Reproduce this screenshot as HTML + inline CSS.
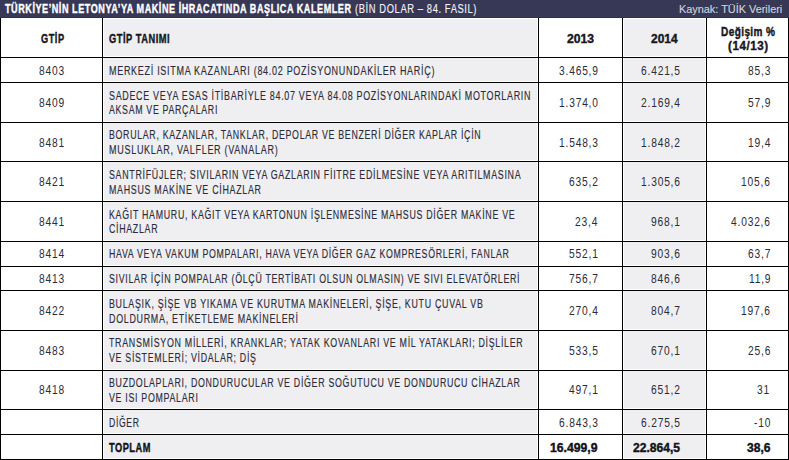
<!DOCTYPE html>
<html><head><meta charset="utf-8"><style>
html,body{margin:0;padding:0;}
body{width:789px;height:460px;overflow:hidden;background:#fff;position:relative;font-family:"Liberation Sans",sans-serif;}
.bar{position:absolute;left:0;top:0;width:789px;height:18px;background:#373756;}
.bar2{position:absolute;left:0;top:17px;width:789px;height:1px;background:#2f2f4a;}
.g{position:absolute;background:#efeff1;}
.h{position:absolute;left:0;width:789px;height:1px;background:#000;}
.v{position:absolute;top:18px;width:1px;height:442px;background:#000;}
.t{position:absolute;white-space:nowrap;transform-origin:0 0;-webkit-text-stroke:0.15px currentColor;}
.b{-webkit-text-stroke:0.4px currentColor;}
</style></head><body>
<div class="bar"></div><div class="bar2"></div>
<div class="g" style="left:104px;top:19px;width:433px;height:37px"></div>
<div class="g" style="left:104px;top:58px;width:433px;height:23px"></div>
<div class="g" style="left:104px;top:83px;width:433px;height:38px"></div>
<div class="g" style="left:104px;top:123px;width:433px;height:37px"></div>
<div class="g" style="left:104px;top:162px;width:433px;height:38px"></div>
<div class="g" style="left:104px;top:202px;width:433px;height:38px"></div>
<div class="g" style="left:104px;top:242px;width:433px;height:23px"></div>
<div class="g" style="left:104px;top:267px;width:433px;height:22px"></div>
<div class="g" style="left:104px;top:291px;width:433px;height:38px"></div>
<div class="g" style="left:104px;top:331px;width:433px;height:38px"></div>
<div class="g" style="left:104px;top:371px;width:433px;height:37px"></div>
<div class="g" style="left:104px;top:410px;width:433px;height:23px"></div>
<div class="g" style="left:104px;top:435px;width:433px;height:23px"></div>
<div class="g" style="left:624px;top:19px;width:81px;height:37px"></div>
<div class="g" style="left:624px;top:58px;width:81px;height:23px"></div>
<div class="g" style="left:624px;top:83px;width:81px;height:38px"></div>
<div class="g" style="left:624px;top:123px;width:81px;height:37px"></div>
<div class="g" style="left:624px;top:162px;width:81px;height:38px"></div>
<div class="g" style="left:624px;top:202px;width:81px;height:38px"></div>
<div class="g" style="left:624px;top:242px;width:81px;height:23px"></div>
<div class="g" style="left:624px;top:267px;width:81px;height:22px"></div>
<div class="g" style="left:624px;top:291px;width:81px;height:38px"></div>
<div class="g" style="left:624px;top:331px;width:81px;height:38px"></div>
<div class="g" style="left:624px;top:371px;width:81px;height:37px"></div>
<div class="g" style="left:624px;top:410px;width:81px;height:23px"></div>
<div class="g" style="left:624px;top:435px;width:81px;height:23px"></div>
<div class="h" style="top:57px"></div>
<div class="h" style="top:82px"></div>
<div class="h" style="top:122px"></div>
<div class="h" style="top:161px"></div>
<div class="h" style="top:201px"></div>
<div class="h" style="top:241px"></div>
<div class="h" style="top:266px"></div>
<div class="h" style="top:290px"></div>
<div class="h" style="top:330px"></div>
<div class="h" style="top:370px"></div>
<div class="h" style="top:409px"></div>
<div class="h" style="top:434px"></div>
<div class="h" style="top:459px"></div>
<div class="v" style="left:0px"></div>
<div class="v" style="left:102px"></div>
<div class="v" style="left:538px"></div>
<div class="v" style="left:622px"></div>
<div class="v" style="left:706px"></div>
<div class="v" style="left:788px"></div>
<div class="t b" style="left:5.00px;top:2.00px;font-size:13px;line-height:13px;font-weight:bold;letter-spacing:0.8px;color:#ffffff;transform:scaleX(0.6972);">TÜRKİYE’NİN LETONYA’YA MAKİNE İHRACATINDA BAŞLICA KALEMLER</div>
<div class="t" style="left:355.00px;top:2.00px;font-size:13px;line-height:13px;letter-spacing:0.8px;color:#f2f2f7;transform:scaleX(0.7237);">(BİN DOLAR – 84. FASIL)</div>
<div class="t" style="left:679.00px;top:4.00px;font-size:11.5px;line-height:11.5px;color:#d0d0da;transform:scaleX(0.9465);">Kaynak: TÜİK Verileri</div>
<div class="t b" style="left:40.50px;top:33.00px;font-size:12.3px;line-height:12.3px;font-weight:bold;letter-spacing:0.7px;color:#161620;transform:scaleX(0.7473);">GTİP</div>
<div class="t b" style="left:108.50px;top:33.00px;font-size:12.3px;line-height:12.3px;font-weight:bold;letter-spacing:0.7px;color:#161620;transform:scaleX(0.7552);">GTİP TANIMI</div>
<div class="t b" style="left:567.00px;top:33.00px;font-size:12.3px;line-height:12.3px;font-weight:bold;color:#161620;transform:scaleX(0.9868);">2013</div>
<div class="t b" style="left:651.00px;top:33.00px;font-size:12.3px;line-height:12.3px;font-weight:bold;color:#161620;transform:scaleX(0.9693);">2014</div>
<div class="t b" style="left:720.50px;top:26.00px;font-size:12px;line-height:12px;font-weight:bold;letter-spacing:0.5px;color:#161620;transform:scaleX(0.8349);">Değişim %</div>
<div class="t b" style="left:728.00px;top:40.00px;font-size:12px;line-height:12px;font-weight:bold;letter-spacing:0.6px;color:#161620;transform:scaleX(0.9614);">(14/13)</div>
<div class="t" style="left:109.00px;top:65.00px;font-size:12.8px;line-height:12.8px;letter-spacing:1.0px;color:#2b2b3a;transform:scaleX(0.7037);">MERKEZİ ISITMA KAZANLARI (84.02 POZİSYONUNDAKİLER HARİÇ)</div>
<div class="t" style="left:39.41px;top:65.00px;font-size:12.8px;line-height:12.8px;letter-spacing:1.0px;color:#2b2b3a;transform:scaleX(0.8000);-webkit-text-stroke:0px currentColor;">8403</div>
<div class="t" style="left:558.54px;top:65.00px;font-size:12.8px;line-height:12.8px;letter-spacing:1.0px;color:#2b2b3a;transform:scaleX(0.8000);-webkit-text-stroke:0px currentColor;">3.465,9</div>
<div class="t" style="left:641.04px;top:65.00px;font-size:12.8px;line-height:12.8px;letter-spacing:1.0px;color:#2b2b3a;transform:scaleX(0.8000);-webkit-text-stroke:0px currentColor;">6.421,5</div>
<div class="t" style="left:748.17px;top:65.00px;font-size:12.8px;line-height:12.8px;letter-spacing:1.0px;color:#2b2b3a;transform:scaleX(0.8000);-webkit-text-stroke:0px currentColor;">85,3</div>
<div class="t" style="left:109.00px;top:90.00px;font-size:12.8px;line-height:12.8px;letter-spacing:1.0px;color:#2b2b3a;transform:scaleX(0.6978);">SADECE VEYA ESAS İTİBARİYLE 84.07 VEYA 84.08 POZİSYONLARINDAKİ MOTORLARIN</div>
<div class="t" style="left:109.00px;top:104.00px;font-size:12.8px;line-height:12.8px;letter-spacing:1.0px;color:#2b2b3a;transform:scaleX(0.6875);">AKSAM VE PARÇALARI</div>
<div class="t" style="left:39.41px;top:97.00px;font-size:12.8px;line-height:12.8px;letter-spacing:1.0px;color:#2b2b3a;transform:scaleX(0.8000);-webkit-text-stroke:0px currentColor;">8409</div>
<div class="t" style="left:558.54px;top:97.00px;font-size:12.8px;line-height:12.8px;letter-spacing:1.0px;color:#2b2b3a;transform:scaleX(0.8000);-webkit-text-stroke:0px currentColor;">1.374,0</div>
<div class="t" style="left:641.04px;top:97.00px;font-size:12.8px;line-height:12.8px;letter-spacing:1.0px;color:#2b2b3a;transform:scaleX(0.8000);-webkit-text-stroke:0px currentColor;">2.169,4</div>
<div class="t" style="left:748.17px;top:97.00px;font-size:12.8px;line-height:12.8px;letter-spacing:1.0px;color:#2b2b3a;transform:scaleX(0.8000);-webkit-text-stroke:0px currentColor;">57,9</div>
<div class="t" style="left:109.00px;top:129.00px;font-size:12.8px;line-height:12.8px;letter-spacing:1.0px;color:#2b2b3a;transform:scaleX(0.6886);">BORULAR, KAZANLAR, TANKLAR, DEPOLAR VE BENZERİ DİĞER KAPLAR İÇİN</div>
<div class="t" style="left:109.00px;top:144.00px;font-size:12.8px;line-height:12.8px;letter-spacing:1.0px;color:#2b2b3a;transform:scaleX(0.7052);">MUSLUKLAR, VALFLER (VANALAR)</div>
<div class="t" style="left:39.41px;top:137.00px;font-size:12.8px;line-height:12.8px;letter-spacing:1.0px;color:#2b2b3a;transform:scaleX(0.8000);-webkit-text-stroke:0px currentColor;">8481</div>
<div class="t" style="left:558.54px;top:137.00px;font-size:12.8px;line-height:12.8px;letter-spacing:1.0px;color:#2b2b3a;transform:scaleX(0.8000);-webkit-text-stroke:0px currentColor;">1.548,3</div>
<div class="t" style="left:641.04px;top:137.00px;font-size:12.8px;line-height:12.8px;letter-spacing:1.0px;color:#2b2b3a;transform:scaleX(0.8000);-webkit-text-stroke:0px currentColor;">1.848,2</div>
<div class="t" style="left:748.17px;top:137.00px;font-size:12.8px;line-height:12.8px;letter-spacing:1.0px;color:#2b2b3a;transform:scaleX(0.8000);-webkit-text-stroke:0px currentColor;">19,4</div>
<div class="t" style="left:109.00px;top:169.00px;font-size:12.8px;line-height:12.8px;letter-spacing:1.0px;color:#2b2b3a;transform:scaleX(0.6944);">SANTRİFÜJLER; SIVILARIN VEYA GAZLARIN FİITRE EDİLMESİNE VEYA ARITILMASINA</div>
<div class="t" style="left:109.00px;top:184.00px;font-size:12.8px;line-height:12.8px;letter-spacing:1.0px;color:#2b2b3a;transform:scaleX(0.6944);">MAHSUS MAKİNE VE CİHAZLAR</div>
<div class="t" style="left:39.41px;top:176.00px;font-size:12.8px;line-height:12.8px;letter-spacing:1.0px;color:#2b2b3a;transform:scaleX(0.8000);-webkit-text-stroke:0px currentColor;">8421</div>
<div class="t" style="left:568.68px;top:176.00px;font-size:12.8px;line-height:12.8px;letter-spacing:1.0px;color:#2b2b3a;transform:scaleX(0.8000);-webkit-text-stroke:0px currentColor;">635,2</div>
<div class="t" style="left:641.04px;top:176.00px;font-size:12.8px;line-height:12.8px;letter-spacing:1.0px;color:#2b2b3a;transform:scaleX(0.8000);-webkit-text-stroke:0px currentColor;">1.305,6</div>
<div class="t" style="left:740.68px;top:176.00px;font-size:12.8px;line-height:12.8px;letter-spacing:1.0px;color:#2b2b3a;transform:scaleX(0.8000);-webkit-text-stroke:0px currentColor;">105,6</div>
<div class="t" style="left:109.00px;top:209.00px;font-size:12.8px;line-height:12.8px;letter-spacing:1.0px;color:#2b2b3a;transform:scaleX(0.6918);">KAĞIT HAMURU, KAĞIT VEYA KARTONUN İŞLENMESİNE MAHSUS DİĞER MAKİNE VE</div>
<div class="t" style="left:109.00px;top:223.00px;font-size:12.8px;line-height:12.8px;letter-spacing:1.0px;color:#2b2b3a;transform:scaleX(0.6901);">CİHAZLAR</div>
<div class="t" style="left:39.41px;top:216.00px;font-size:12.8px;line-height:12.8px;letter-spacing:1.0px;color:#2b2b3a;transform:scaleX(0.8000);-webkit-text-stroke:0px currentColor;">8441</div>
<div class="t" style="left:575.17px;top:216.00px;font-size:12.8px;line-height:12.8px;letter-spacing:1.0px;color:#2b2b3a;transform:scaleX(0.8000);-webkit-text-stroke:0px currentColor;">23,4</div>
<div class="t" style="left:651.18px;top:216.00px;font-size:12.8px;line-height:12.8px;letter-spacing:1.0px;color:#2b2b3a;transform:scaleX(0.8000);-webkit-text-stroke:0px currentColor;">968,1</div>
<div class="t" style="left:730.54px;top:216.00px;font-size:12.8px;line-height:12.8px;letter-spacing:1.0px;color:#2b2b3a;transform:scaleX(0.8000);-webkit-text-stroke:0px currentColor;">4.032,6</div>
<div class="t" style="left:109.00px;top:248.00px;font-size:12.8px;line-height:12.8px;letter-spacing:1.0px;color:#2b2b3a;transform:scaleX(0.6870);">HAVA VEYA VAKUM POMPALARI, HAVA VEYA DİĞER GAZ KOMPRESÖRLERİ, FANLAR</div>
<div class="t" style="left:39.41px;top:248.00px;font-size:12.8px;line-height:12.8px;letter-spacing:1.0px;color:#2b2b3a;transform:scaleX(0.8000);-webkit-text-stroke:0px currentColor;">8414</div>
<div class="t" style="left:568.68px;top:248.00px;font-size:12.8px;line-height:12.8px;letter-spacing:1.0px;color:#2b2b3a;transform:scaleX(0.8000);-webkit-text-stroke:0px currentColor;">552,1</div>
<div class="t" style="left:651.18px;top:248.00px;font-size:12.8px;line-height:12.8px;letter-spacing:1.0px;color:#2b2b3a;transform:scaleX(0.8000);-webkit-text-stroke:0px currentColor;">903,6</div>
<div class="t" style="left:748.17px;top:248.00px;font-size:12.8px;line-height:12.8px;letter-spacing:1.0px;color:#2b2b3a;transform:scaleX(0.8000);-webkit-text-stroke:0px currentColor;">63,7</div>
<div class="t" style="left:109.00px;top:273.00px;font-size:12.8px;line-height:12.8px;letter-spacing:1.0px;color:#2b2b3a;transform:scaleX(0.6903);">SIVILAR İÇİN POMPALAR (ÖLÇÜ TERTİBATI OLSUN OLMASIN) VE SIVI ELEVATÖRLERİ</div>
<div class="t" style="left:39.41px;top:273.00px;font-size:12.8px;line-height:12.8px;letter-spacing:1.0px;color:#2b2b3a;transform:scaleX(0.8000);-webkit-text-stroke:0px currentColor;">8413</div>
<div class="t" style="left:568.68px;top:273.00px;font-size:12.8px;line-height:12.8px;letter-spacing:1.0px;color:#2b2b3a;transform:scaleX(0.8000);-webkit-text-stroke:0px currentColor;">756,7</div>
<div class="t" style="left:651.18px;top:273.00px;font-size:12.8px;line-height:12.8px;letter-spacing:1.0px;color:#2b2b3a;transform:scaleX(0.8000);-webkit-text-stroke:0px currentColor;">846,6</div>
<div class="t" style="left:749.17px;top:273.00px;font-size:12.8px;line-height:12.8px;letter-spacing:1.0px;color:#2b2b3a;transform:scaleX(0.8000);-webkit-text-stroke:0px currentColor;">11,9</div>
<div class="t" style="left:109.00px;top:298.00px;font-size:12.8px;line-height:12.8px;letter-spacing:1.0px;color:#2b2b3a;transform:scaleX(0.6943);">BULAŞIK, ŞİŞE VB YIKAMA VE KURUTMA MAKİNELERİ, ŞİŞE, KUTU ÇUVAL VB</div>
<div class="t" style="left:109.00px;top:313.00px;font-size:12.8px;line-height:12.8px;letter-spacing:1.0px;color:#2b2b3a;transform:scaleX(0.6971);">DOLDURMA, ETİKETLEME MAKİNELERİ</div>
<div class="t" style="left:39.41px;top:305.00px;font-size:12.8px;line-height:12.8px;letter-spacing:1.0px;color:#2b2b3a;transform:scaleX(0.8000);-webkit-text-stroke:0px currentColor;">8422</div>
<div class="t" style="left:568.68px;top:305.00px;font-size:12.8px;line-height:12.8px;letter-spacing:1.0px;color:#2b2b3a;transform:scaleX(0.8000);-webkit-text-stroke:0px currentColor;">270,4</div>
<div class="t" style="left:651.18px;top:305.00px;font-size:12.8px;line-height:12.8px;letter-spacing:1.0px;color:#2b2b3a;transform:scaleX(0.8000);-webkit-text-stroke:0px currentColor;">804,7</div>
<div class="t" style="left:740.68px;top:305.00px;font-size:12.8px;line-height:12.8px;letter-spacing:1.0px;color:#2b2b3a;transform:scaleX(0.8000);-webkit-text-stroke:0px currentColor;">197,6</div>
<div class="t" style="left:109.00px;top:337.00px;font-size:12.8px;line-height:12.8px;letter-spacing:1.0px;color:#2b2b3a;transform:scaleX(0.6930);">TRANSMİSYON MİLLERİ, KRANKLAR; YATAK KOVANLARI VE MİL YATAKLARI; DİŞLİLER</div>
<div class="t" style="left:109.00px;top:352.00px;font-size:12.8px;line-height:12.8px;letter-spacing:1.0px;color:#2b2b3a;transform:scaleX(0.6899);">VE SİSTEMLERİ; VİDALAR; DİŞ</div>
<div class="t" style="left:39.41px;top:345.00px;font-size:12.8px;line-height:12.8px;letter-spacing:1.0px;color:#2b2b3a;transform:scaleX(0.8000);-webkit-text-stroke:0px currentColor;">8483</div>
<div class="t" style="left:568.68px;top:345.00px;font-size:12.8px;line-height:12.8px;letter-spacing:1.0px;color:#2b2b3a;transform:scaleX(0.8000);-webkit-text-stroke:0px currentColor;">533,5</div>
<div class="t" style="left:651.18px;top:345.00px;font-size:12.8px;line-height:12.8px;letter-spacing:1.0px;color:#2b2b3a;transform:scaleX(0.8000);-webkit-text-stroke:0px currentColor;">670,1</div>
<div class="t" style="left:748.17px;top:345.00px;font-size:12.8px;line-height:12.8px;letter-spacing:1.0px;color:#2b2b3a;transform:scaleX(0.8000);-webkit-text-stroke:0px currentColor;">25,6</div>
<div class="t" style="left:109.00px;top:377.00px;font-size:12.8px;line-height:12.8px;letter-spacing:1.0px;color:#2b2b3a;transform:scaleX(0.6909);">BUZDOLAPLARI, DONDURUCULAR VE DİĞER SOĞUTUCU VE DONDURUCU CİHAZLAR</div>
<div class="t" style="left:109.00px;top:392.00px;font-size:12.8px;line-height:12.8px;letter-spacing:1.0px;color:#2b2b3a;transform:scaleX(0.6911);">VE ISI POMPALARI</div>
<div class="t" style="left:39.41px;top:384.00px;font-size:12.8px;line-height:12.8px;letter-spacing:1.0px;color:#2b2b3a;transform:scaleX(0.8000);-webkit-text-stroke:0px currentColor;">8418</div>
<div class="t" style="left:568.68px;top:384.00px;font-size:12.8px;line-height:12.8px;letter-spacing:1.0px;color:#2b2b3a;transform:scaleX(0.8000);-webkit-text-stroke:0px currentColor;">497,1</div>
<div class="t" style="left:651.18px;top:384.00px;font-size:12.8px;line-height:12.8px;letter-spacing:1.0px;color:#2b2b3a;transform:scaleX(0.8000);-webkit-text-stroke:0px currentColor;">651,2</div>
<div class="t" style="left:757.31px;top:384.00px;font-size:12.8px;line-height:12.8px;letter-spacing:1.0px;color:#2b2b3a;transform:scaleX(0.8000);-webkit-text-stroke:0px currentColor;">31</div>
<div class="t" style="left:109.00px;top:417.00px;font-size:12.8px;line-height:12.8px;letter-spacing:1.0px;color:#2b2b3a;transform:scaleX(0.6739);">DİĞER</div>
<div class="t" style="left:558.54px;top:417.00px;font-size:12.8px;line-height:12.8px;letter-spacing:1.0px;color:#2b2b3a;transform:scaleX(0.8000);-webkit-text-stroke:0px currentColor;">6.843,3</div>
<div class="t" style="left:641.04px;top:417.00px;font-size:12.8px;line-height:12.8px;letter-spacing:1.0px;color:#2b2b3a;transform:scaleX(0.8000);-webkit-text-stroke:0px currentColor;">6.275,5</div>
<div class="t" style="left:754.10px;top:417.00px;font-size:12.8px;line-height:12.8px;letter-spacing:1.0px;color:#2b2b3a;transform:scaleX(0.8000);-webkit-text-stroke:0px currentColor;">-10</div>
<div class="t b" style="left:108.50px;top:442.00px;font-size:12.5px;line-height:12.5px;font-weight:bold;letter-spacing:0.7px;color:#111118;transform:scaleX(0.7375);">TOPLAM</div>
<div class="t b" style="left:549.50px;top:442.00px;font-size:12.5px;line-height:12.5px;font-weight:bold;color:#111118;transform:scaleX(0.9764);">16.499,9</div>
<div class="t b" style="left:633.00px;top:442.00px;font-size:12.5px;line-height:12.5px;font-weight:bold;color:#111118;transform:scaleX(0.9660);">22.864,5</div>
<div class="t b" style="left:747.00px;top:442.00px;font-size:12.5px;line-height:12.5px;font-weight:bold;color:#111118;transform:scaleX(0.9662);">38,6</div>
</body></html>
